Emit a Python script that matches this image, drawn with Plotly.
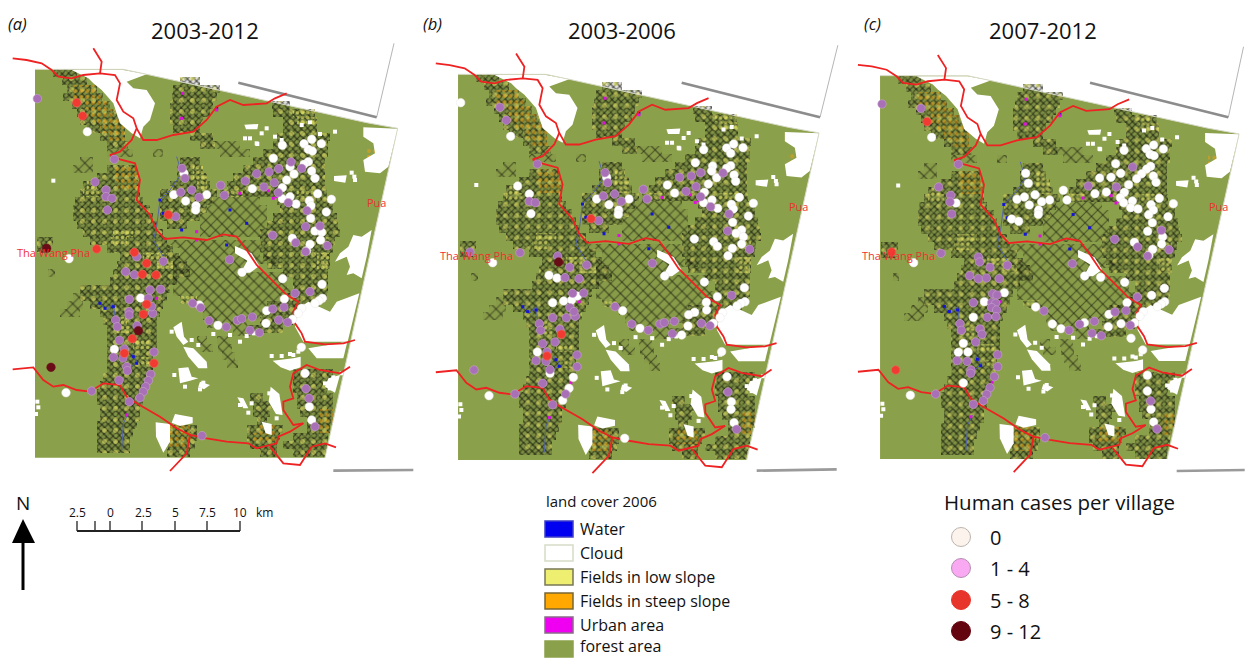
import plotly.graph_objects as go

# ---------- panels: where each map sits on the page ----------
panel_names = ["a", "b", "c"]
panel_titles = ["2003-2012", "2003-2006", "2007-2012"]
panel_tags = ["(a)", "(b)", "(c)"]
panel_title_x = [205, 622, 1043]
panel_tag_x = [17, 432, 872]
panel_ox = [0, 423.2, 845.4]
panel_oy = [40, 45.2, 46.7]
panel_sx = [1 / 3, 0.3318, 0.33]
panel_sy = [1 / 3, 0.331, 0.329]
panel_w = [1260, 1260, 1210]
panel_crop_x = [0, 420, 845]
MAP_H = 1320

# ---------- land cover in map units ----------
forest_x = [105, 370, 440, 1100, 1193, 975, 105]
forest_y = [88, 88, 103, 248, 265, 1253, 1253]
outline_x = [105, 370, 440, 1100, 1193, 975]
outline_y = [88, 88, 103, 248, 265, 1253]

cloud_polys = [
    [(215,90),(370,90),(440,103),(410,115),(380,125),(400,145),(440,150),(465,190),(450,240),(430,260),(420,295),(395,280),(360,250),(340,190),(305,150),(280,130),(265,115)],
    [(1090,262),(1193,266),(1165,380),(1140,400),(1095,395),(1090,360),(1125,340),(1120,310),(1090,290)],
    [(1115,570),(1085,590),(1060,585),(1045,620),(1020,640),(1005,665),(1040,650),(1050,680),(1040,705),(1060,700),(1085,715),(1100,650)],
    [(1078,760),(1043,905),(910,905),(885,860),(895,805),(925,785),(990,815),(1010,785)],
    [(1042,905),(1030,955),(950,955),(925,925)],
    [(1020,1005),(1005,1058),(975,1040),(985,1015)],
    [(520,862),(545,845),(552,890),(565,905),(550,915),(530,890)],
    [(550,920),(580,925),(620,965),(622,985),(595,985),(565,950)],
    [(535,985),(565,982),(575,1010),(595,1015),(570,1022),(540,1030)],
    [(600,1025),(630,1035),(612,1048),(595,1040)],
    [(712,1072),(730,1075),(745,1105),(730,1105)],
    [(812,1040),(838,1062),(848,1125),(828,1122),(806,1085)],
    [(525,1122),(578,1132),(578,1150),(540,1158),(515,1148)],
    [(467,1147),(510,1152),(510,1205),(490,1238),(468,1190)],
    [(785,1145),(815,1152),(815,1185),(797,1180)],
    [(705,618),(755,640),(778,678),(750,698),(722,698),(742,662),(705,640)],
    [(733,254),(775,252),(772,268),(738,268)],
    [(1002,408),(1040,406),(1036,428),(1002,423)],
    [(818,962),(880,955),(902,950),(902,982),(870,992),(842,982)],
]
cloud_bits_x = [735,770,785,1005,960,1055,1063,750,772,800,845,825,905,930,815,845,880,895,523,610,560,600,555,720,745,755,690,720,740,762,640,1000,975,990,115,108,112,160,870,900,1025,1065,515,575,595,808,830]
cloud_bits_y = [295,310,280,275,282,398,410,295,312,265,300,290,255,247,948,948,945,935,1005,1028,1000,1048,1040,1095,1118,1090,885,905,888,880,882,1012,1030,1045,1102,1122,1085,422,942,925,1000,420,875,900,915,1060,1135]

dense_rows = [
    (100,160,230),(124,185,260),(148,200,290),(172,190,310),(196,215,330),(220,230,350),(244,240,365),(268,260,375),(292,300,375),(316,320,385),
    (124,540,600),(148,520,660),(172,515,650),(196,510,640),(220,510,630),(244,510,610),(268,520,600),(292,570,640),(316,600,645),
    (196,815,870),(220,820,945),(244,850,950),(268,850,950),(292,830,990),(316,820,985),(340,790,985),(364,760,975),(388,730,975),(412,700,975),(436,680,975),(460,660,980),(484,830,1000),(508,840,1000),(532,820,1010),(556,800,1015),(580,780,1020),(604,780,1005),(628,780,1000),(652,790,990),(676,800,990),(700,850,985),(724,880,985),(748,880,985),(772,860,980),(796,800,960),(820,790,900),(844,780,880),(868,740,850),
    (364,540,600),(388,530,610),(412,530,620),(436,510,630),(460,480,650),(484,480,640),(508,480,620),(532,480,600),(556,500,560),
    (388,320,410),(412,290,415),(436,250,420),(460,240,420),(484,225,430),(508,220,450),(532,220,460),(556,230,470),(580,250,490),(604,270,500),(628,320,520),(652,360,540),(676,350,560),(700,340,570),(724,330,530),
    (748,240,510),(772,240,500),(796,270,490),(820,300,480),(844,310,470),(868,320,470),(892,320,470),(916,320,470),(940,320,460),(964,320,460),(988,320,460),(1012,310,450),(1036,300,440),(1060,290,430),(1084,290,430),(1108,300,420),(1132,300,420),(1156,290,410),(1180,290,400),(1204,290,390),(1228,290,390),
    (1000,880,1000),(1024,880,1010),(1048,880,980),(1072,890,1000),(1096,890,1000),(1120,900,1000),(1144,920,1000),(1168,920,990),(1192,880,985),(1216,850,980),(1240,880,975),
    (1072,750,790),(1096,760,830),(1120,760,810),(1144,770,800),(1168,740,850),(1192,740,840),(1216,750,830),(1240,780,830),
    (1168,500,590),(1192,510,590),(1216,505,585),(1240,500,570),
    (604,110,160),(628,110,150),
]
sparse_rows = [
    (340,320,400),(364,240,280),(388,220,280),(340,460,490),(316,640,720),(340,660,750),
    (612,500,780),(636,540,780),(660,520,830),(684,520,750),(708,520,860),(732,520,860),(756,520,880),(780,540,880),(804,590,800),(828,610,790),(852,620,740),(876,700,760),
    (900,650,690),(924,655,695),(948,665,705),(972,680,715),(900,590,620),(924,600,640),
    (484,640,780),(508,620,800),(532,600,800),(556,600,800),(580,600,780),
    (700,145,165),(820,180,240),(796,200,250),(772,220,240),
]
orange_rows = [
    (148,220,290),(172,220,310),(196,250,330),(220,260,345),(244,280,360),(268,300,375),(292,320,375),
    (388,340,405),(412,340,415),(436,350,415),
    (1168,510,570),(1192,510,575),(1216,505,570),
    (1120,960,1000),(1144,960,1000),(1168,960,990),
    (1168,770,830),(1192,760,830),
    (340,1100,1140),(356,1100,1150),
]
yellow_rows = [
    (388,580,610),(412,580,620),(436,590,620),(460,680,730),
    (436,260,290),(460,250,300),(580,340,400),(604,330,380),(652,430,500),(676,470,520),
    (652,950,990),(676,950,985),(604,950,990),(460,890,960),(780,540,590),
    (844,350,380),(868,350,390),(916,400,450),(964,420,450),
    (220,880,930),(244,890,950),
]

road_lines = [
    [(38,55),(80,60),(125,70),(155,90),(175,110),(215,115),(250,105),(300,100),(345,105),(360,130),(350,180),(370,215),(400,235),(410,265),(395,300),(360,335),(330,345),(360,358),(405,370),(420,420),(410,480),(450,525),(470,570),(495,597),(550,592),(620,600),(670,583),(710,590),(740,630),(770,675),(820,725),(860,765),(895,785),(880,815),(885,850),(905,880),(915,905),(975,913),(1030,910),(1065,900)],
    [(280,25),(305,65),(300,100)],
    [(410,265),(430,300),(470,300),(520,285),(580,275),(620,240),(650,200),(690,180),(730,195),(800,190),(825,175),(860,160)],
    [(38,988),(100,982),(130,1020),(160,1040),(190,1035),(230,1050),(270,1055),(310,1030),(360,1035),(380,1070),(410,1090),(480,1130),(530,1165),(570,1185),(620,1195),(680,1205),(745,1210),(770,1225),(830,1210),(835,1190),(870,1175),(910,1150)],
    [(570,1185),(560,1240),(510,1293)],
    [(910,1150),(880,1155),(850,1110),(850,1085),(880,1075),(870,1040),(880,1000),(920,975),(960,990),(1020,1000),(1050,980)],
    [(810,1220),(850,1270),(900,1275),(935,1220),(975,1210),(1008,1222)],
]
river_lines = [
    [(530,350),(545,400),(510,450),(480,480),(470,560),(460,600),(490,650)],
    [(300,790),(320,810),(340,790),(345,830)],
    [(395,940),(410,965),(395,980)],
    [(385,1120),(370,1150),(365,1230)],
]
water_x = [300,340,315,400,410,490,480,690,740,680,545,650]
water_y = [790,800,805,950,970,520,480,510,550,615,570,205]
urban_x = [548,545,805,820,470,445,380,590,590,720,830,650]
urban_y = [160,235,452,475,775,1020,1125,575,600,460,470,210]

# ---------- frame lines, read in each panel's crop ----------
frame_thin = [[(1130,232),(1182,10)], [(1200,232),(1255,10)], [(1150,232),(1200,0)]]
frame_top = [[(715,128),(1130,232)], [(785,128),(1200,232)], [(735,128),(1150,232)]]
frame_low = [[(1000,1292),(1240,1290)], [(1010,1292),(1250,1288)], [(995,1293),(1200,1290)]]

# ---------- villages, read in each panel's crop ----------
dark_a = [(140,625),(153,982),(415,872)]
red_a = [(230,188),(248,228),(290,627),(403,637),(440,670),(427,703),(468,705),(505,524),(440,793),(430,823),(397,896),(373,940),(462,970)]
purple_a = [(112,176),(343,358),(285,426),(318,450),(318,470),(336,475),(322,510),(546,385),(555,415),(542,457),(575,450),(597,472),(527,530),(662,436),(673,466),(736,423),(770,401),(807,396),(836,386),(873,366),(905,385),(823,428),(792,441),(835,458),(865,488),(921,512),(917,560),(960,558),(818,586),(887,608),(982,617),(917,635),(689,659),(410,650),(490,664),(377,695),(403,704),(450,750),(482,748),(445,775),(388,778),(387,815),(387,825),(458,820),(455,800),(578,790),(602,803),(347,840),(352,860),(411,857),(627,842),(679,861),(712,841),(725,836),(757,831),(818,807),(852,802),(885,760),(930,755),(836,840),(863,847),(750,871),(778,878),(358,901),(373,927),(462,936),(340,952),(369,954),(380,980),(382,992),(452,1003),(357,1021),(445,1022),(437,1040),(430,1055),(420,1073),(388,1085),(275,1053),(918,1046),(927,1075),(945,1160),(606,1187)]
white_a = [(262,275),(207,656),(198,1058),(847,316),(912,311),(935,298),(964,311),(925,328),(937,333),(820,355),(925,365),(912,373),(870,380),(935,393),(882,402),(860,420),(945,415),(757,446),(847,443),(953,461),(870,470),(847,476),(888,492),(928,482),(933,497),(994,478),(979,516),(932,535),(521,464),(552,400),(620,464),(557,483),(588,497),(587,510),(945,573),(965,577),(877,595),(962,600),(930,613),(920,632),(848,716),(726,697),(966,733),(853,777),(967,775),(957,782),(945,790),(422,774),(598,795),(800,812),(905,805),(895,820),(878,838),(654,856),(798,850),(343,928),(904,922),(915,1000),(928,1100),(935,1140)]

dark_b = [(416,666)]
red_b = [(513,536),(424,883),(381,948)]
purple_b = [(240,202),(259,241),(352,372),(150,636),(300,638),(328,484),(346,488),(555,398),(563,428),(550,468),(584,462),(604,484),(536,542),(670,448),(681,477),(779,412),(814,408),(842,398),(909,399),(828,440),(798,454),(842,470),(872,500),(927,522),(923,573),(989,628),(697,670),(413,648),(449,682),(500,675),(435,713),(477,716),(458,760),(491,759),(450,803),(398,833),(466,829),(462,815),(439,833),(585,800),(635,852),(685,871),(720,852),(733,848),(763,844),(844,850),(870,857),(757,881),(358,851),(362,871),(420,868),(368,911),(405,906),(381,936),(471,945),(348,962),(378,964),(471,980),(390,989),(368,1030),(437,1062),(398,1094),(285,1062),(935,766),(924,1056),(950,1168),(162,990)]
white_b = [(122,188),(272,289),(293,438),(328,462),(333,521),(218,668),(207,1067),(851,329),(920,324),(941,312),(969,323),(932,340),(826,368),(878,378),(932,377),(920,385),(875,393),(942,405),(890,413),(865,432),(947,424),(742,435),(764,459),(853,457),(958,472),(876,480),(851,488),(893,505),(934,493),(940,507),(1000,490),(985,528),(938,547),(530,477),(560,412),(627,477),(567,494),(596,510),(595,523),(965,570),(948,580),(970,590),(965,612),(881,605),(892,619),(823,597),(937,625),(924,647),(853,726),(734,708),(973,743),(387,706),(411,714),(431,783),(398,788),(455,780),(472,768),(608,812),(892,770),(859,787),(975,785),(963,790),(951,798),(824,817),(806,824),(860,810),(908,818),(900,833),(880,850),(804,858),(660,865),(785,885),(352,936),(390,1000),(460,1012),(447,1045),(428,1081),(934,1085),(933,1108),(921,1010),(942,1148),(614,1195),(905,935)]

dark_c = []
red_c = [(140,636),(246,245),(152,990)]
purple_c = [(111,192),(228,205),(340,373),(281,441),(317,466),(315,486),(320,522),(288,640),(730,438),(863,381),(814,441),(949,571),(809,598),(878,621),(972,629),(908,648),(682,671),(400,651),(404,666),(435,682),(487,676),(374,707),(400,716),(424,714),(463,716),(443,761),(456,765),(385,788),(440,788),(452,790),(440,803),(455,810),(427,832),(453,830),(597,813),(877,771),(345,851),(349,871),(405,867),(411,883),(392,906),(458,944),(336,962),(366,964),(458,980),(378,990),(377,1000),(448,1010),(435,1043),(425,1063),(415,1082),(385,1093),(272,1062),(704,853),(748,844),(810,816),(843,812),(672,871),(741,880),(769,887),(856,856),(917,1083),(936,1167),(600,1193)]
white_c = [(260,292),(206,668),(196,1066),(333,489),(385,832),(418,785),(478,758),(572,801),(622,852),(648,866),(718,848),(790,860),(792,823),(828,851),(846,788),(920,766),(837,331),(904,326),(926,315),(955,327),(915,343),(927,347),(812,371),(917,379),(905,387),(890,401),(827,400),(798,412),(764,414),(875,416),(925,408),(851,434),(933,427),(750,461),(784,456),(838,457),(826,473),(943,475),(862,483),(836,488),(857,503),(879,507),(918,494),(925,510),(985,491),(969,530),(911,524),(922,548),(542,400),(550,430),(655,451),(666,480),(516,478),(538,471),(570,464),(553,495),(590,485),(614,480),(581,510),(580,523),(500,537),(521,544),(908,574),(953,590),(868,607),(950,612),(923,628),(912,645),(839,727),(719,708),(767,712),(958,745),(959,785),(949,792),(937,800),(895,815),(885,829),(869,848),(355,910),(340,937),(369,936),(355,1029),(907,1006),(907,1053),(918,1108),(926,1146),(858,895),(893,930)]

villages = {
    "white": [white_a, white_b, white_c],
    "purple": [purple_a, purple_b, purple_c],
    "red": [red_a, red_b, red_c],
    "dark": [dark_a, dark_b, dark_c],
}
village_fill = {"white": "#FFFFFF", "purple": "#A870B6", "red": "#F03A32", "dark": "#6A0C18"}
village_edge = {"white": "#EFEAEA", "purple": "#C9A4CF", "red": "#F46A5E", "dark": "#6A0C18"}

# ---------- map labels ----------
place_names = ["Tha Wang Pha", "Pua"]
place_x = [160, 1130]
place_y = [636, 486]

# ---------- legends ----------
cover_labels = ["Water", "Cloud", "Fields in low slope", "Fields in steep slope", "Urban area", "forest area"]
cover_fill = ["#0000F0", "#FFFFFF", "#EEEE70", "#FFA800", "#F000F0", "#8BA04A"]
cover_edge = ["#3C3CC8", "#D6DCC6", "#777755", "#776633", "#8A6A8A", "#8BA04A"]
cover_top = [521, 545, 569, 593, 617, 641]
case_labels = ["0", "1 - 4", "5 - 8", "9 - 12"]
case_fill = ["#FBF3EC", "#F9A8F2", "#E7352B", "#64040F"]
case_edge = ["#BBB3AD", "#B58FB0", "#E7352B", "#64040F"]
case_y = [537, 568, 600, 631]
scale_ticks_x = [77, 95, 110, 142, 175, 207, 240]
scale_labels = ["2.5", "0", "2.5", "5", "7.5", "10"]
scale_label_x = [77, 110, 143, 175, 207, 240]

FONT = "Open Sans"
fig = go.Figure()
shapes, annos = [], []
layout = {}


def ax(i):
    return ("x", "y") if i == 0 else (f"x{i+1}", f"y{i+1}")


def rows_to_bar(rows, xa, ya, pattern, tint):
    ys, x0, x1 = zip(*rows)
    fig.add_trace(go.Bar(
        orientation="h", y=list(ys), base=list(x0),
        x=[b - a for a, b in zip(x0, x1)], width=24,
        marker=dict(color=tint, line_width=0, pattern=pattern),
        xaxis=xa, yaxis=ya, hoverinfo="skip", showlegend=False))


def hatch(shape, size, solidity, color):
    return dict(shape=shape, size=size, solidity=solidity, fgcolor=color, fillmode="overlay")


for i in range(3):
    ox, oy, sx, sy, w = panel_ox[i], panel_oy[i], panel_sx[i], panel_sy[i], panel_w[i]
    xa, ya = ax(i)
    xkey = "xaxis" if i == 0 else f"xaxis{i+1}"
    ykey = "yaxis" if i == 0 else f"yaxis{i+1}"
    layout[xkey] = dict(domain=[ox / 1245, (ox + w * sx) / 1245], range=[0, w], visible=False, fixedrange=True, anchor=ya)
    layout[ykey] = dict(domain=[1 - (oy + MAP_H * sy) / 658, 1 - oy / 658], range=[MAP_H, 0], visible=False, fixedrange=True, anchor=xa)

    def crop(pts):
        xs = [(p[0] / 3 + panel_crop_x[i] - ox) / sx for p in pts]
        ys = [(p[1] / 3 + 40 - oy) / sy for p in pts]
        return xs, ys

    path = "M" + " L".join(f"{a},{b}" for a, b in zip(forest_x, forest_y)) + " Z"
    shapes.append(dict(type="path", path=path, xref=xa, yref=ya, layer="below", fillcolor="#8BA04A", line_width=0))

    # speckle: diagonal hatches of unlike periods beat against each other
    rows_to_bar(sparse_rows, xa, ya, hatch("/", 7, 0.16, "#14140a"), "rgba(0,0,0,0.03)")
    rows_to_bar(sparse_rows, xa, ya, hatch("\\", 9, 0.16, "#14140a"), "rgba(0,0,0,0)")
    rows_to_bar(dense_rows, xa, ya, hatch("/", 4, 0.30, "#0d0d06"), "rgba(0,0,0,0.12)")
    rows_to_bar(dense_rows, xa, ya, hatch("\\", 5, 0.34, "#0d0d06"), "rgba(0,0,0,0)")
    rows_to_bar(dense_rows, xa, ya, hatch(".", 7, 0.20, "#8BA04A"), "rgba(0,0,0,0)")
    rows_to_bar(dense_rows, xa, ya, hatch(".", 11, 0.16, "#EDE96A"), "rgba(0,0,0,0)")
    rows_to_bar(yellow_rows, xa, ya, hatch(".", 5, 0.40, "#F2EE6A"), "rgba(0,0,0,0)")
    rows_to_bar(orange_rows, xa, ya, hatch(".", 6, 0.32, "#F3A010"), "rgba(0,0,0,0)")

    for poly in cloud_polys:
        fig.add_trace(go.Scatter(x=[p[0] for p in poly], y=[p[1] for p in poly], mode="lines", fill="toself",
                                 fillcolor="#FFFFFF", line=dict(width=0), xaxis=xa, yaxis=ya, hoverinfo="skip", showlegend=False))
    fig.add_trace(go.Scatter(x=cloud_bits_x, y=cloud_bits_y, mode="markers", marker=dict(symbol="square", size=4, color="#FFFFFF"),
                             xaxis=xa, yaxis=ya, hoverinfo="skip", showlegend=False))
    fig.add_trace(go.Scatter(x=outline_x, y=outline_y, mode="lines", line=dict(color="#D8DAC8", width=1),
                             xaxis=xa, yaxis=ya, hoverinfo="skip", showlegend=False))
    for line in river_lines:
        fig.add_trace(go.Scatter(x=[p[0] for p in line], y=[p[1] for p in line], mode="lines",
                                 line=dict(color="#5566A8", width=1), xaxis=xa, yaxis=ya, hoverinfo="skip", showlegend=False))
    fig.add_trace(go.Scatter(x=water_x, y=water_y, mode="markers", marker=dict(symbol="square", size=3, color="#1515D8"),
                             xaxis=xa, yaxis=ya, hoverinfo="skip", showlegend=False))
    fig.add_trace(go.Scatter(x=urban_x, y=urban_y, mode="markers", marker=dict(symbol="square", size=3, color="#E010E0"),
                             xaxis=xa, yaxis=ya, hoverinfo="skip", showlegend=False))

    for seg, color, lw in [(frame_thin[i], "#B5B5B5", 1), (frame_top[i], "#8C8C8C", 2.6), (frame_low[i], "#9A9A9A", 2.6)]:
        xs, ys = crop(seg)
        fig.add_trace(go.Scatter(x=xs, y=ys, mode="lines", line=dict(color=color, width=lw),
                                 xaxis=xa, yaxis=ya, hoverinfo="skip", showlegend=False))

    for line in road_lines:
        fig.add_trace(go.Scatter(x=[p[0] for p in line], y=[p[1] for p in line], mode="lines",
                                 line=dict(color="#EE2222", width=1.8), xaxis=xa, yaxis=ya, hoverinfo="skip", showlegend=False))

    for cls in ["white", "purple", "red", "dark"]:
        pts = villages[cls][i]
        if not pts:
            continue
        xs, ys = crop(pts)
        fig.add_trace(go.Scatter(x=xs, y=ys, mode="markers",
                                 marker=dict(size=8.5, color=village_fill[cls], line=dict(width=0.6, color=village_edge[cls])),
                                 xaxis=xa, yaxis=ya, hoverinfo="skip", showlegend=False))

    for name, px, py in zip(place_names, place_x, place_y):
        annos.append(dict(x=px, y=py, xref=xa, yref=ya, text=name, showarrow=False,
                          font=dict(family=FONT, size=11, color="#F03030")))
    annos.append(dict(x=panel_title_x[i], y=30, xref="x4", yref="y4", text=panel_titles[i], showarrow=False,
                      font=dict(family=FONT, size=22, color="#111111")))
    annos.append(dict(x=panel_tag_x[i], y=23, xref="x4", yref="y4", text=f"<i>{panel_tags[i]}</i>", showarrow=False,
                      font=dict(family=FONT, size=16.5, color="#111111")))

# page-wide axes for legends, north arrow and scale bar (page pixels)
layout["xaxis4"] = dict(domain=[0, 1], range=[0, 1245], visible=False, fixedrange=True, anchor="y4")
layout["yaxis4"] = dict(domain=[0, 1], range=[658, 0], visible=False, fixedrange=True, anchor="x4")

annos.append(dict(x=544, y=501, xref="x4", yref="y4", text="land cover 2006", xanchor="left", showarrow=False,
                  font=dict(family=FONT, size=15, color="#111111")))
for lab, top, fill, edge in zip(cover_labels, cover_top, cover_fill, cover_edge):
    shapes.append(dict(type="rect", xref="x4", yref="y4", x0=545, x1=573, y0=top, y1=top + 16,
                       fillcolor=fill, line=dict(color=edge, width=1.5)))
    annos.append(dict(x=578, y=min(top + 8, 646), xref="x4", yref="y4", text=lab, xanchor="left", showarrow=False,
                      font=dict(family=FONT, size=16, color="#111111")))

annos.append(dict(x=942, y=502, xref="x4", yref="y4", text="Human cases per village", xanchor="left", showarrow=False,
                  font=dict(family=FONT, size=20.5, color="#111111")))
fig.add_trace(go.Scatter(x=[961] * 4, y=case_y, mode="markers",
                         marker=dict(size=19, color=case_fill, line=dict(width=1, color=case_edge)),
                         xaxis="x4", yaxis="y4", hoverinfo="skip", showlegend=False))
for lab, cy in zip(case_labels, case_y):
    annos.append(dict(x=988, y=cy, xref="x4", yref="y4", text=lab, xanchor="left", showarrow=False,
                      font=dict(family=FONT, size=20, color="#111111")))

# north arrow
annos.append(dict(x=23, y=503, xref="x4", yref="y4", text="N", showarrow=False, font=dict(family=FONT, size=19, color="#111111")))
shapes.append(dict(type="line", xref="x4", yref="y4", x0=23, x1=23, y0=590, y1=540, line=dict(color="#000000", width=3)))
shapes.append(dict(type="path", xref="x4", yref="y4", path="M23,519 L35,543 L12,543 Z", fillcolor="#000000", line_width=0))

# scale bar
fig.add_trace(go.Scatter(x=[scale_ticks_x[0], scale_ticks_x[-1]], y=[531, 531], mode="lines",
                         line=dict(color="#222222", width=2), xaxis="x4", yaxis="y4", hoverinfo="skip", showlegend=False))
for tx in scale_ticks_x:
    shapes.append(dict(type="line", xref="x4", yref="y4", x0=tx, x1=tx, y0=521, y1=531, line=dict(color="#222222", width=1.3)))
for lab, tx in zip(scale_labels, scale_label_x):
    annos.append(dict(x=tx, y=512, xref="x4", yref="y4", text=lab, showarrow=False, font=dict(family=FONT, size=12, color="#111111")))
annos.append(dict(x=264, y=512, xref="x4", yref="y4", text="km", showarrow=False, font=dict(family=FONT, size=12, color="#111111")))

fig.update_layout(width=1245, height=658, autosize=False, margin=dict(l=0, r=0, t=0, b=0),
                  paper_bgcolor="#FFFFFF", plot_bgcolor="rgba(0,0,0,0)", barmode="overlay", bargap=0,
                  showlegend=False, shapes=shapes, annotations=annos, **layout)
fig.write_html("out.html", config={"displayModeBar": False}, post_script="document.body.style.margin='0';")
